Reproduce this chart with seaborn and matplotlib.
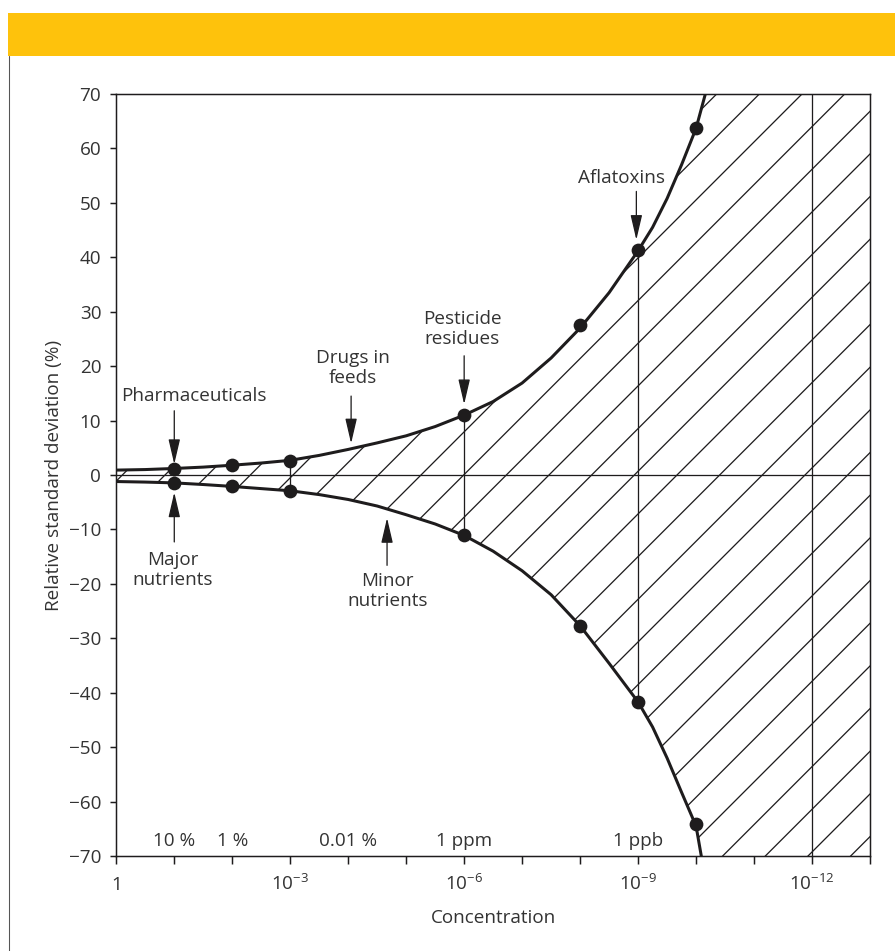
import matplotlib
matplotlib.use("Agg")
from matplotlib import pyplot as plt
from matplotlib.patches import Rectangle
from matplotlib.lines import Line2D
import numpy as np
import pandas as pd
import seaborn as sns

# decades below 1 (concentration = 10 ** -decade)
upper_dec = [0, 0.5, 1, 1.5, 2, 2.5, 3, 3.5, 4, 4.5, 5, 5.5, 6, 6.5, 7, 7.5, 8, 8.5, 9,
             9.25, 9.5, 9.75, 10, 10.16]
upper_rsd = [0.9, 1.0, 1.2, 1.45, 1.8, 2.2, 2.7, 3.6, 4.7, 5.9, 7.2, 8.9, 11.0, 13.5, 16.9, 21.5,
             27.0, 33.5, 41.2, 45.5, 50.8, 57.0, 63.7, 70]
lower_dec = [0, 0.5, 1, 1.5, 2, 2.5, 3, 3.5, 4, 4.5, 5, 5.5, 6, 6.5, 7, 7.5, 8, 8.5, 9,
             9.25, 9.5, 9.75, 10, 10.09]
lower_rsd = [-1.2, -1.3, -1.45, -1.75, -2.1, -2.5, -2.9, -3.6, -4.5, -5.7, -7.3, -9.0, -11.1, -14.0,
             -17.6, -22.0, -27.7, -34.6, -41.7, -46.3, -52.0, -58.3, -64.5, -70]

point_dec = [1, 2, 3, 6, 8, 9, 10]
point_up = [1.1, 1.9, 2.5, 11.0, 27.5, 41.4, 63.7]
point_lo = [-1.4, -2.1, -2.9, -11.1, -27.7, -41.7, -64.1]
link_dec = [3, 6, 9]

range_labels = ['10 %', '1 %', '0.01 %', '1 ppm', '1 ppb']
range_dec = [1, 2, 4, 6, 9]

# label text, text position (decade, rsd), arrow tail, arrow tip
notes = [
    ('Pharmaceuticals', (1.34, 14.5), (1, 11.8), (1, 2.0)),
    ('Major\nnutrients', (0.97, -17.5), (1, -12.3), (1, -3.2)),
    ('Drugs in\nfeeds', (4.08, 19.6), (4.05, 14.5), (4.05, 5.8)),
    ('Minor\nnutrients', (4.68, -21.3), (4.67, -16.6), (4.67, -7.9)),
    ('Pesticide\nresidues', (5.97, 26.9), (6, 21.9), (6, 13.0)),
    ('Aflatoxins', (8.71, 54.5), (8.97, 52.1), (8.97, 43.2)),
]

x_max_dec = 13
y_lim = (-70, 70)
tick_dec = list(range(0, 14))
tick_text = {0: '1', 3: '$10^{-3}$', 6: '$10^{-6}$', 9: '$10^{-9}$', 12: '$10^{-12}$'}


def conc(d):
    return 10.0 ** -np.asarray(d, dtype=float)


DPI = 256
sns.set_style("ticks")
plt.rcParams['font.family'] = ['Open Sans', 'DejaVu Sans']
plt.rcParams['mathtext.fontset'] = 'custom'
plt.rcParams['mathtext.rm'] = 'Open Sans'
plt.rcParams['mathtext.default'] = 'regular'
plt.rcParams['hatch.linewidth'] = 0.36
plt.rcParams['hatch.color'] = '#1a1a1a'

FS = 5.3
TXT = '#333333'
INK = '#1e1c1d'

fig = plt.figure(figsize=(895 / DPI, 951 / DPI), dpi=DPI)
ax = fig.add_axes([116.3 / 895, 1 - 856 / 951, (870 - 116.3) / 895, (856 - 94) / 951])
ax.set_xscale('log')

# hatched region between the two curves, then the whole height to the right
poly_x = list(conc(upper_dec)) + list(conc([x_max_dec, x_max_dec])) + list(conc(lower_dec[::-1]))
poly_y = upper_rsd + [y_lim[1], y_lim[0]] + lower_rsd[::-1]
ax.fill(poly_x, poly_y, facecolor='none', edgecolor=INK, hatch='//', linewidth=0)

ax.axhline(0, color=INK, lw=0.36)
ax.axvline(conc(12), color=INK, lw=0.36)
link_idx = [point_dec.index(d) for d in link_dec]
ax.vlines(conc(link_dec), [point_lo[i] for i in link_idx], [point_up[i] for i in link_idx],
          color=INK, lw=0.36)

up_df = pd.DataFrame({'c': conc(upper_dec), 'rsd': upper_rsd})
lo_df = pd.DataFrame({'c': conc(lower_dec), 'rsd': lower_rsd})
sns.lineplot(data=up_df, x='c', y='rsd', ax=ax, color=INK, lw=0.85, sort=False, estimator=None)
sns.lineplot(data=lo_df, x='c', y='rsd', ax=ax, color=INK, lw=0.85, sort=False, estimator=None)

pts = pd.DataFrame({'c': np.concatenate([conc(point_dec), conc(point_dec)]),
                    'rsd': point_up + point_lo})
sns.scatterplot(data=pts, x='c', y='rsd', ax=ax, color=INK, s=15, edgecolor=INK, linewidth=0, zorder=5)

for text, (tx, ty), (ax0, ay0), (ax1, ay1) in notes:
    ax.text(conc(tx), ty, text, ha='center', va='center', fontsize=FS, color=TXT, linespacing=1.15)
    ax.annotate('', xy=(conc(ax1), ay1), xytext=(conc(ax0), ay0),
                arrowprops=dict(arrowstyle='-|>,head_length=0.6,head_width=0.14',
                                color=INK, lw=0.36, shrinkA=0, shrinkB=0))

for lab, d in zip(range_labels, range_dec):
    ax.text(conc(d), -67.2, lab, ha='center', va='center', fontsize=FS, color=TXT)

ax.set_xlim(1, conc(x_max_dec))
ax.set_ylim(*y_lim)
ax.set_xticks(conc(tick_dec))
ax.set_xticklabels([tick_text.get(d, '') for d in tick_dec])
ax.xaxis.set_minor_locator(matplotlib.ticker.NullLocator())
ax.set_yticks(range(-70, 71, 10))
ax.tick_params(axis='both', labelsize=FS, labelcolor=TXT, color=INK, width=0.42, length=2)
ax.tick_params(axis='x', length=2.2, pad=7.4)
ax.tick_params(axis='y', length=1.7, pad=2.5)
for lab in ax.get_xticklabels():
    lab.set_verticalalignment('baseline')

for pos in ['left', 'right', 'top', 'bottom']:
    ax.spines[pos].set_linewidth(0.42)
    ax.spines[pos].set_color(INK)

ax.set_xlabel('Concentration', fontsize=FS, color=TXT)
ax.set_ylabel('Relative standard deviation (%)', fontsize=FS, color=TXT)
ax.xaxis.set_label_coords(0.5, -0.069)
ax.yaxis.set_label_coords(-0.071, 0.5)

# yellow band on top and the thin frame line at the left
fig.patches.append(Rectangle((8 / 895, 1 - 55.7 / 951), 1, 42.4 / 951, transform=fig.transFigure,
                             facecolor='#fec20c', edgecolor='none'))
fig.lines.append(Line2D([8.5 / 895, 8.5 / 895], [0, 1 - 55.7 / 951], transform=fig.transFigure,
                        color='#555555', lw=0.3))

fig.savefig('out.png', dpi=DPI)
